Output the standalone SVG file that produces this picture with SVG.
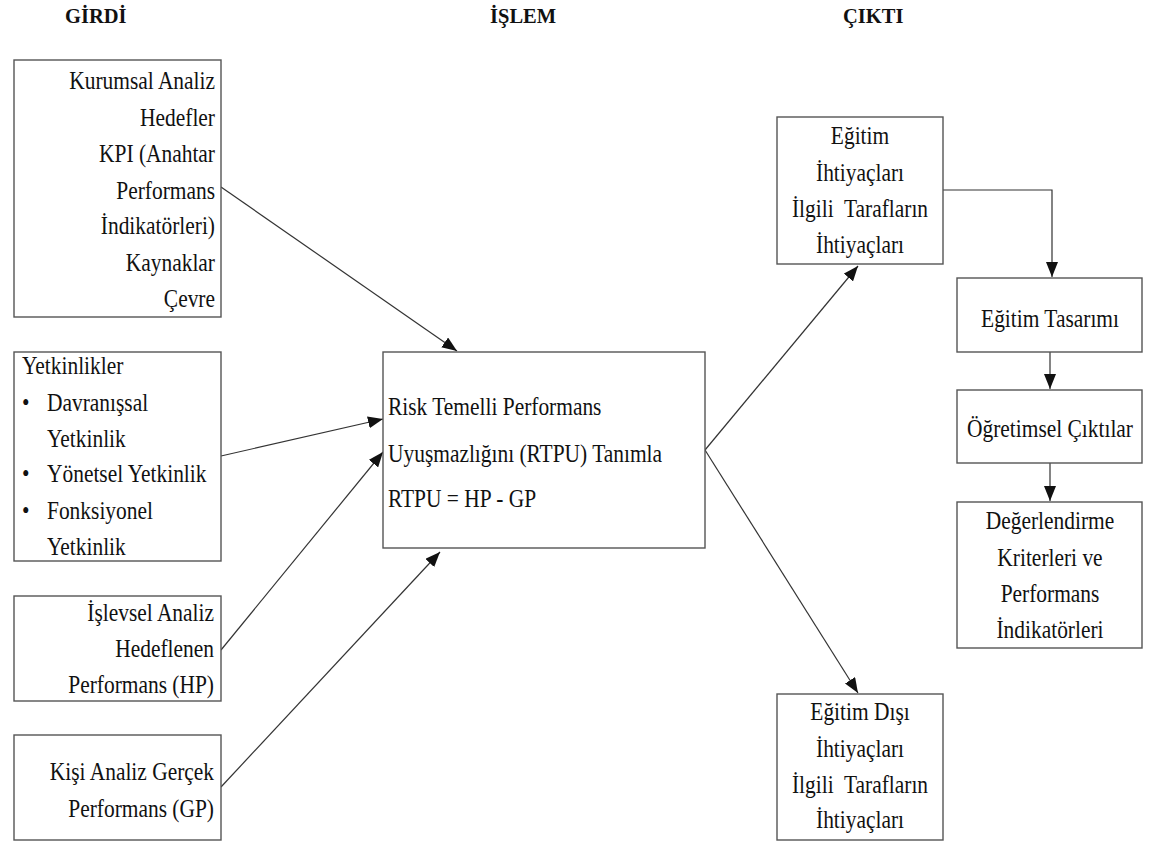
<svg xmlns="http://www.w3.org/2000/svg" width="1149" height="846" viewBox="0 0 1149 846">
<style>
.box{fill:#fff;stroke:#555;stroke-width:1.4}
.t{font-family:'Liberation Serif','Times New Roman','DejaVu Serif',serif;font-size:24.5px;fill:#111;white-space:pre}
.r{text-anchor:end}
.c{text-anchor:middle}
.h{font-family:'Liberation Serif','Times New Roman','DejaVu Serif',serif;font-size:20.5px;font-weight:bold;fill:#111}
.ln{fill:none;stroke:#333;stroke-width:1.2}
</style>
<defs>
<marker id="ah" markerUnits="userSpaceOnUse" markerWidth="16" markerHeight="12" refX="15" refY="6" orient="auto">
<path d="M0,0 L15,6 L0,12 Z" fill="#111"/>
</marker>
</defs>
<rect width="1149" height="846" fill="#fff"/>
<g id="headers">
<text class="h" x="65" y="23">GİRDİ</text>
<text class="h" x="490" y="23">İŞLEM</text>
<text class="h" x="843" y="23">ÇIKTI</text>
</g>
<g id="connectors">
<line class="ln" x1="221" y1="187" x2="457" y2="351" marker-end="url(#ah)"/>
<line class="ln" x1="221" y1="456" x2="383" y2="419" marker-end="url(#ah)"/>
<line class="ln" x1="221" y1="650" x2="383" y2="452" marker-end="url(#ah)"/>
<line class="ln" x1="221" y1="787" x2="440" y2="552" marker-end="url(#ah)"/>
<line class="ln" x1="705" y1="450" x2="858" y2="266" marker-end="url(#ah)"/>
<line class="ln" x1="705" y1="450" x2="858" y2="693" marker-end="url(#ah)"/>
<polyline class="ln" points="943,190 1052,190 1052,277" marker-end="url(#ah)"/>
<line class="ln" x1="1050" y1="352" x2="1050" y2="389" marker-end="url(#ah)"/>
<line class="ln" x1="1050" y1="463" x2="1050" y2="501" marker-end="url(#ah)"/>
</g>
<g id="kurumsal">
<rect class="box" x="14" y="60" width="207" height="257"/>
<g transform="translate(215 0) scale(0.875 1)">
<text class="t r" x="0" y="89">Kurumsal Analiz</text>
<text class="t r" x="0" y="126">Hedefler</text>
<text class="t r" x="0" y="162">KPI (Anahtar</text>
<text class="t r" x="0" y="199">Performans</text>
<text class="t r" x="0" y="234">İndikatörleri)</text>
<text class="t r" x="0" y="271">Kaynaklar</text>
<text class="t r" x="0" y="307">Çevre</text>
</g>
</g>
<g id="yetkinlikler">
<rect class="box" x="14" y="352" width="207" height="209"/>
<g transform="translate(22 0) scale(0.875 1)">
<text class="t" x="0" y="374">Yetkinlikler</text>
<text class="t" x="0" y="411">•</text>
<text class="t" x="0" y="482">•</text>
<text class="t" x="0" y="519">•</text>
</g>
<g transform="translate(47 0) scale(0.875 1)">
<text class="t" x="0" y="411">Davranışsal</text>
<text class="t" x="0" y="447">Yetkinlik</text>
<text class="t" x="0" y="482">Yönetsel Yetkinlik</text>
<text class="t" x="0" y="519">Fonksiyonel</text>
<text class="t" x="0" y="555">Yetkinlik</text>
</g>
</g>
<g id="islevsel">
<rect class="box" x="14" y="596" width="207" height="105"/>
<g transform="translate(214 0) scale(0.875 1)">
<text class="t r" x="0" y="621">İşlevsel Analiz</text>
<text class="t r" x="0" y="657">Hedeflenen</text>
<text class="t r" x="0" y="693">Performans (HP)</text>
</g>
</g>
<g id="kisi">
<rect class="box" x="14" y="735" width="207" height="105"/>
<g transform="translate(214 0) scale(0.875 1)">
<text class="t r" x="0" y="780">Kişi Analiz Gerçek</text>
<text class="t r" x="0" y="817">Performans (GP)</text>
</g>
</g>
<g id="rtpu">
<rect class="box" x="383" y="352" width="322" height="196"/>
<g transform="translate(388 0) scale(0.875 1)">
<text class="t" x="0" y="415">Risk Temelli Performans</text>
<text class="t" x="0" y="462">Uyuşmazlığını (RTPU) Tanımla</text>
<text class="t" x="0" y="507">RTPU = HP - GP</text>
</g>
</g>
<g id="egitim-ihtiyac">
<rect class="box" x="777" y="117" width="166" height="147"/>
<g transform="translate(860 0) scale(0.875 1)">
<text class="t c" x="0" y="144">Eğitim</text>
<text class="t c" x="0" y="181">İhtiyaçları</text>
<text class="t c" x="0" y="217">İlgili  Tarafların</text>
<text class="t c" x="0" y="253">İhtiyaçları</text>
</g>
</g>
<g id="egitim-tasarim">
<rect class="box" x="957" y="278" width="185" height="74"/>
<g transform="translate(1050 0) scale(0.875 1)">
<text class="t c" x="0" y="327">Eğitim Tasarımı</text>
</g>
</g>
<g id="ogretimsel">
<rect class="box" x="957" y="390" width="185" height="73"/>
<g transform="translate(1050 0) scale(0.875 1)">
<text class="t c" x="0" y="437">Öğretimsel Çıktılar</text>
</g>
</g>
<g id="degerlendirme">
<rect class="box" x="957" y="502" width="185" height="146"/>
<g transform="translate(1050 0) scale(0.875 1)">
<text class="t c" x="0" y="529">Değerlendirme</text>
<text class="t c" x="0" y="566">Kriterleri ve</text>
<text class="t c" x="0" y="602">Performans</text>
<text class="t c" x="0" y="638">İndikatörleri</text>
</g>
</g>
<g id="egitim-disi">
<rect class="box" x="777" y="694" width="166" height="146"/>
<g transform="translate(860 0) scale(0.875 1)">
<text class="t c" x="0" y="720">Eğitim Dışı</text>
<text class="t c" x="0" y="757">İhtiyaçları</text>
<text class="t c" x="0" y="793">İlgili  Tarafların</text>
<text class="t c" x="0" y="828">İhtiyaçları</text>
</g>
</g>
</svg>
